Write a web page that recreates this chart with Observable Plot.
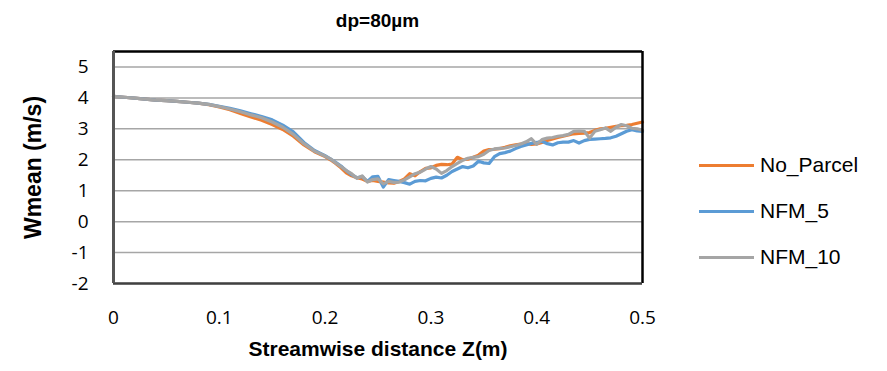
<!DOCTYPE html>
<html>
<head>
<meta charset="utf-8">
<script src="https://cdn.jsdelivr.net/npm/d3@7"></script>
<script src="https://cdn.jsdelivr.net/npm/@observablehq/plot@0.6"></script>
<style>
  html, body { margin: 0; padding: 0; background: #fff; }
  #chart { position: relative; width: 887px; height: 371px; font-family: "Liberation Sans", Arial, sans-serif; }
  #title { height: 30px; width: 755px; text-align: center; font-weight: bold; font-size: 19px; line-height: 42px; color: #000; }
  #legend { position: absolute; left: 699px; top: 0; }
  .item { position: absolute; left: 0; height: 24px; display: flex; align-items: center; white-space: nowrap; }
  .swatch { width: 55px; height: 3px; margin-right: 6px; }
  .item span { font-size: 21px; color: #000; }
</style>
</head>
<body>
<div id="chart">
  <div id="title">dp=80µm</div>
  <div id="legend"></div>
</div>
<script>
// Streamwise positions Z (m)
const zValues = [
  0, 0.01, 0.02, 0.03, 0.04, 0.05, 0.06, 0.07, 0.08, 0.09,
  0.10, 0.11, 0.12, 0.13, 0.14, 0.15, 0.16, 0.17, 0.18, 0.19, 0.20,
  0.205, 0.21, 0.215, 0.22, 0.225, 0.23, 0.235, 0.24, 0.245, 0.25,
  0.255, 0.26, 0.265, 0.27, 0.275, 0.28, 0.285, 0.29, 0.295, 0.30,
  0.305, 0.31, 0.315, 0.32, 0.325, 0.33, 0.335, 0.34, 0.345, 0.35,
  0.355, 0.36, 0.365, 0.37, 0.375, 0.38, 0.385, 0.39, 0.395, 0.40,
  0.405, 0.41, 0.415, 0.42, 0.425, 0.43, 0.435, 0.44, 0.445, 0.45,
  0.455, 0.46, 0.465, 0.47, 0.475, 0.48, 0.485, 0.49, 0.495, 0.50
];

// Mean streamwise velocity Wmean (m/s) for each case
const noParcel = [
  4.05, 4.02, 3.99, 3.96, 3.93, 3.91, 3.89, 3.86, 3.83, 3.78,
  3.71, 3.62, 3.50, 3.38, 3.28, 3.14, 2.98, 2.76, 2.48, 2.26, 2.10,
  2.00, 1.88, 1.74, 1.58, 1.48, 1.42, 1.38, 1.30, 1.33, 1.30,
  1.28, 1.25, 1.24, 1.30, 1.38, 1.55, 1.48, 1.62, 1.72, 1.74,
  1.82, 1.85, 1.84, 1.86, 2.08, 2.00, 2.02, 2.08, 2.15, 2.28,
  2.33, 2.34, 2.36, 2.40, 2.45, 2.48, 2.51, 2.52, 2.50, 2.51,
  2.56, 2.62, 2.67, 2.72, 2.76, 2.80, 2.84, 2.85, 2.86, 2.88,
  2.95, 3.00, 3.02, 3.05, 3.08, 3.10, 3.11, 3.14, 3.18, 3.22
];
const nfm5 = [
  4.05, 4.02, 3.99, 3.96, 3.93, 3.91, 3.89, 3.86, 3.83, 3.79,
  3.73, 3.66, 3.58, 3.49, 3.40, 3.29, 3.12, 2.90, 2.56, 2.30, 2.13,
  2.03, 1.92, 1.80, 1.65, 1.52, 1.42, 1.46, 1.30, 1.45, 1.46,
  1.12, 1.36, 1.33, 1.30, 1.26, 1.21, 1.30, 1.33, 1.32, 1.40,
  1.44, 1.41, 1.50, 1.62, 1.70, 1.78, 1.74, 1.80, 1.95, 1.90,
  1.88, 2.10, 2.20, 2.23, 2.28, 2.36, 2.43, 2.48, 2.53, 2.56,
  2.60, 2.52, 2.48, 2.55, 2.57, 2.57, 2.62, 2.54, 2.62, 2.66,
  2.67, 2.68, 2.69, 2.71, 2.76, 2.84, 2.92, 2.97, 2.93, 2.92
];
const nfm10 = [
  4.05, 4.02, 3.99, 3.96, 3.93, 3.91, 3.89, 3.86, 3.83, 3.79,
  3.72, 3.64, 3.55, 3.45, 3.36, 3.22, 3.05, 2.82, 2.52, 2.28, 2.12,
  2.03, 1.90, 1.78, 1.65, 1.55, 1.40, 1.48, 1.28, 1.36, 1.38,
  1.22, 1.30, 1.27, 1.28, 1.35, 1.45, 1.55, 1.60, 1.70, 1.78,
  1.70, 1.56, 1.65, 1.78, 1.88, 1.98, 2.05, 2.08, 2.10, 2.18,
  2.30, 2.35, 2.37, 2.38, 2.42, 2.46, 2.51, 2.58, 2.68, 2.50,
  2.65, 2.70, 2.72, 2.76, 2.78, 2.82, 2.92, 2.93, 2.92, 2.70,
  2.92, 2.97, 3.03, 2.92, 3.05, 3.14, 3.10, 3.02, 3.00, 2.95
];

const seriesNames = ["No_Parcel", "NFM_5", "NFM_10"];
const seriesColors = ["#ED7D31", "#5B9BD5", "#A5A5A5"];
const xTicks = [0, 0.1, 0.2, 0.3, 0.4, 0.5];
const yTicks = [-2, -1, 0, 1, 2, 3, 4, 5];

// Long-format table, series in drawing order (last drawn on top)
const columns = [noParcel, nfm5, nfm10];
const rows = seriesNames.flatMap((name, i) =>
  zValues.map((z, j) => ({series: name, z, w: columns[i][j]}))
);

const tickFont = "'Open Sans', sans-serif";
const titleFont = "'Liberation Sans', Arial, sans-serif";

const plot = Plot.plot({
  width: 887,
  height: 341,
  marginLeft: 113,
  marginRight: 245,
  marginTop: 21,
  marginBottom: 88,
  style: {background: "transparent", color: "#000"},
  x: {domain: [0, 0.5]},
  y: {domain: [-2, 5.5]},
  color: {domain: seriesNames, range: seriesColors},
  marks: [
    Plot.ruleY(yTicks, {stroke: "#A6A6A6", strokeWidth: 1.5}),
    Plot.line(rows, {x: "z", y: "w", z: "series", stroke: "series", strokeWidth: 3.2, curve: "linear"}),
    Plot.ruleY([5.5], {stroke: "#000", strokeWidth: 2.5}),
    Plot.ruleX([0.5], {stroke: "#000", strokeWidth: 2.5}),
    Plot.ruleY([-2], {stroke: "#404040", strokeWidth: 2.5}),
    Plot.ruleX([0], {stroke: "#555555", strokeWidth: 3}),
    Plot.axisX({ticks: xTicks, tickFormat: d => String(d), tickSize: 0, tickPadding: 27,
      fontSize: 19, fontFamily: tickFont, label: null}),
    Plot.axisY({ticks: yTicks, tickFormat: d => String(d), tickSize: 0, tickPadding: 25,
      fontSize: 19, fontFamily: tickFont, label: null}),
    Plot.text(["Streamwise distance Z(m)"], {frameAnchor: "bottom", dy: 72, fontSize: 21,
      fontWeight: "bold", fontFamily: titleFont, fill: "#000"}),
    Plot.text(["Wmean (m/s)"], {frameAnchor: "left", textAnchor: "middle", dx: -80, rotate: -90,
      fontSize: 23, fontWeight: "bold", fontFamily: titleFont, fill: "#000"})
  ]
});
document.getElementById("chart").appendChild(plot);

// Legend to the right of the plot area
const legend = document.getElementById("legend");
const legendRowsY = [165, 211, 257];
seriesNames.forEach((name, i) => {
  const item = document.createElement("div");
  item.className = "item";
  item.style.top = (legendRowsY[i] - 12) + "px";
  const sw = document.createElement("div");
  sw.className = "swatch";
  sw.style.background = plot.scale("color").apply(name);
  const label = document.createElement("span");
  label.textContent = name;
  item.append(sw, label);
  legend.appendChild(item);
});
</script>
</body>
</html>
